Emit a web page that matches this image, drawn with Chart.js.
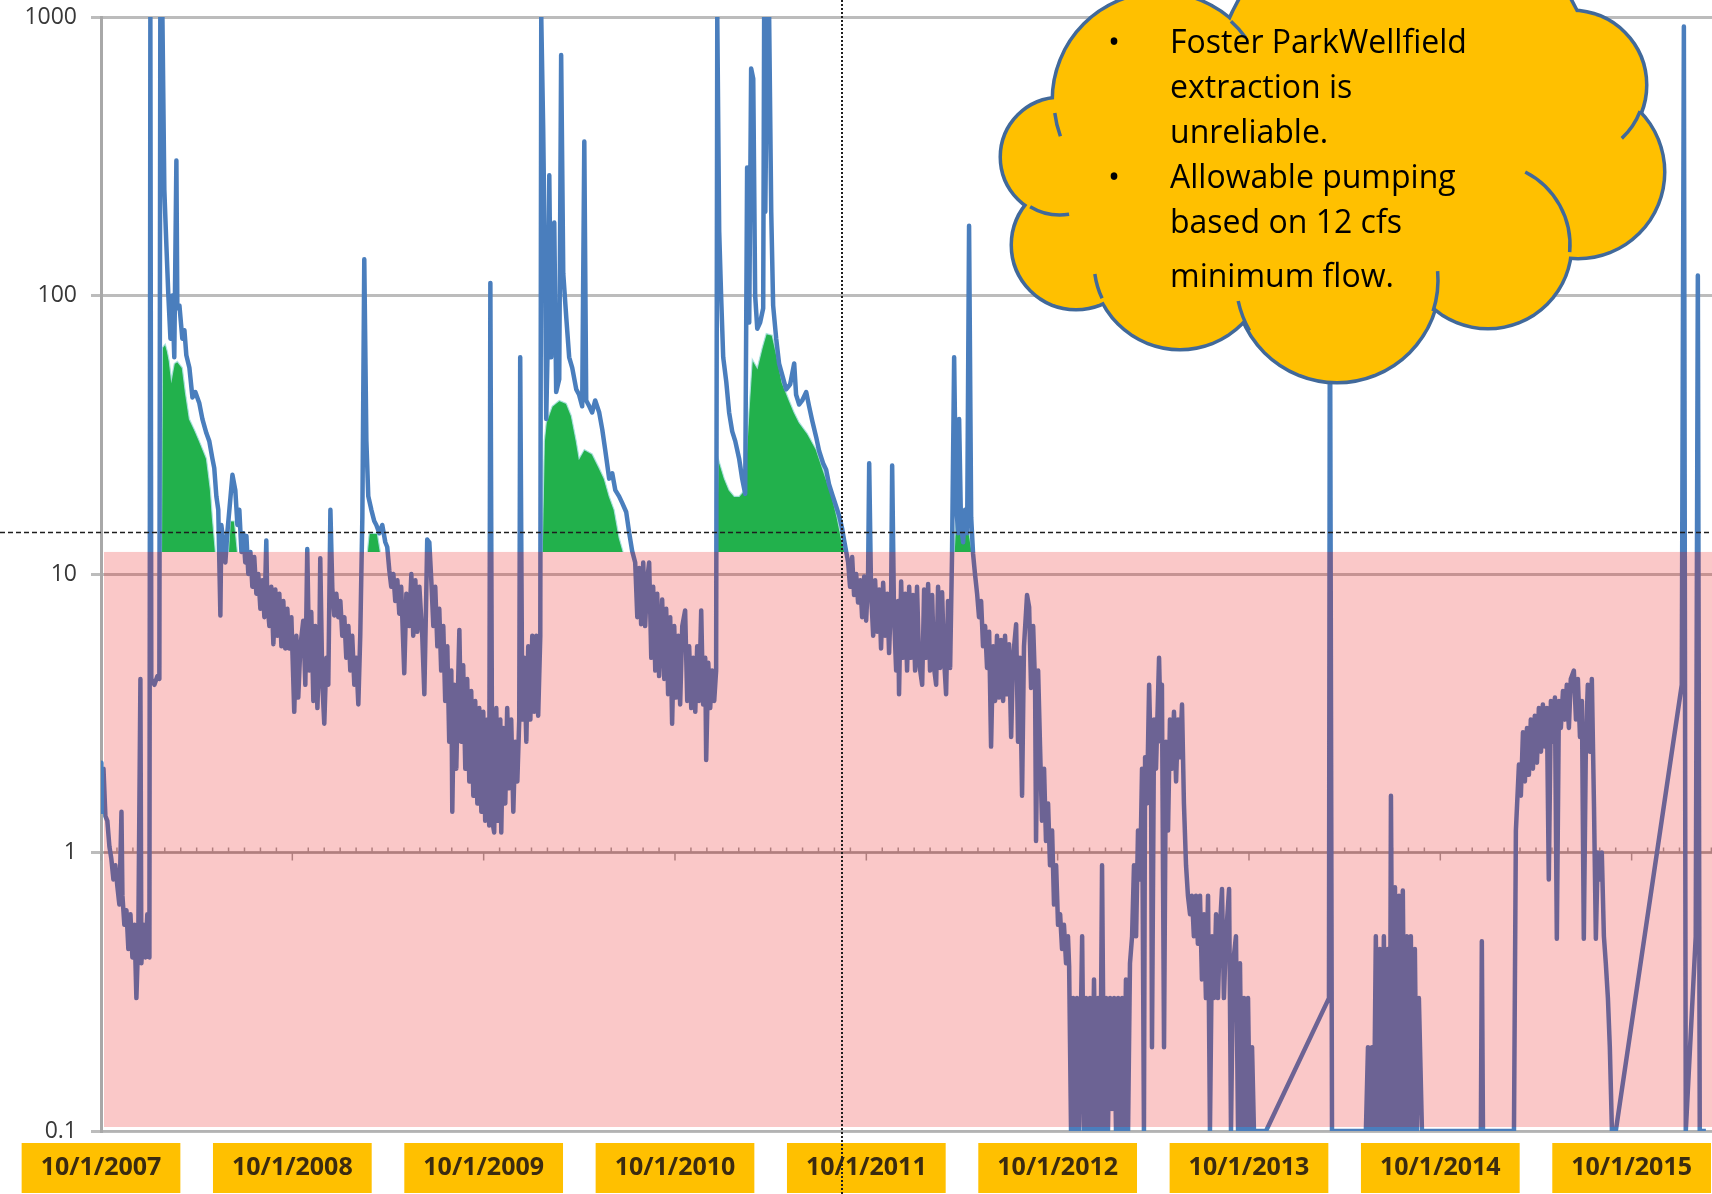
<!DOCTYPE html>
<html><head><meta charset="utf-8">
<script src="https://cdn.jsdelivr.net/npm/chart.js"></script>
<style>html,body{margin:0;padding:0;background:#fff;}canvas{display:block;}</style>
</head><body>
<canvas id="c" width="1712" height="1194"></canvas>
<script>
// ---------- data (x = years since 10/1/2007, y = flow in cfs) ----------
const dateLabels = ['10/1/2007','10/1/2008','10/1/2009','10/1/2010','10/1/2011','10/1/2012','10/1/2013','10/1/2014','10/1/2015'];
const flowTicks = [0.1, 1, 10, 100, 1000];
const minimumFlow = 12;
const dottedFlow = 14.2;
const dottedYear = 3.874;
const calloutLines = ['Foster ParkWellfield', 'extraction is', 'unreliable.', 'Allowable pumping', 'based on 12 cfs', 'minimum flow.'];
const calloutBullets = [0, 3];

const wy2008 = [[0,2.1],[0.002,1.4],[0.013,2.0],[0.023,1.35],[0.033,1.3],[0.044,1.05],[0.054,0.95],[0.065,0.8],[0.075,0.9],[0.086,0.75],[0.096,0.65],[0.107,1.4],[0.112,0.7],[0.122,0.55],[0.133,0.62],[0.143,0.45],[0.154,0.6],[0.164,0.42],[0.175,0.55],[0.185,0.3],[0.195,0.5],[0.206,4.2],[0.211,0.4],[0.222,0.55],[0.232,0.42],[0.242,0.6],[0.253,0.42],[0.258,1000],[0.263,4.2],[0.279,4.0],[0.295,4.3],[0.305,4.2],[0.310,1000],[0.321,1000],[0.331,240],[0.342,150],[0.352,100],[0.363,70],[0.373,100],[0.383,60],[0.394,305],[0.399,90],[0.410,92],[0.425,70],[0.436,75],[0.446,61],[0.462,55],[0.478,43],[0.493,45],[0.514,41],[0.530,36],[0.551,32],[0.566,30],[0.582,26],[0.592,24],[0.603,19],[0.613,17],[0.624,7.1],[0.629,15],[0.640,13],[0.650,11],[0.660,14],[0.671,17],[0.687,22.7],[0.702,20],[0.713,15],[0.723,17],[0.734,12],[0.744,14],[0.754,11],[0.760,13.7],[0.770,10],[0.781,12],[0.791,9],[0.801,11.5],[0.812,8.5],[0.822,10],[0.833,7.5],[0.843,9.5],[0.854,7],[0.864,13.2],[0.869,8],[0.880,6.5],[0.890,9],[0.901,5.6],[0.911,8.8],[0.922,6],[0.932,8.5],[0.943,5.5],[0.953,8],[0.963,5.4],[0.974,7.5],[0.984,5.4],[0.995,7]];
const wy2009 = [[1.010,3.2],[1.021,6],[1.031,3.6],[1.042,5.5],[1.057,6.8],[1.068,4],[1.078,12.3],[1.089,4.5],[1.099,7.3],[1.110,3.5],[1.120,6.5],[1.131,3.3],[1.141,5.5],[1.146,11.4],[1.157,4],[1.167,2.9],[1.178,5],[1.188,4],[1.199,17],[1.209,8.9],[1.219,7.1],[1.230,8.5],[1.240,7],[1.251,8],[1.261,6],[1.272,7],[1.282,5],[1.293,6.5],[1.303,4.5],[1.313,6],[1.324,4],[1.334,5],[1.345,3.4],[1.355,6],[1.366,16],[1.376,135],[1.387,30],[1.397,19],[1.413,17],[1.428,15.5],[1.439,15],[1.455,14],[1.470,15],[1.486,13],[1.496,12.5],[1.507,10.3],[1.517,9],[1.528,10],[1.538,8],[1.549,9.5],[1.559,7.2],[1.569,9],[1.585,4.4],[1.596,8.5],[1.611,6.5],[1.622,10],[1.632,6],[1.643,9.5],[1.653,6.2],[1.664,9],[1.679,6],[1.690,3.7],[1.700,8.5],[1.705,13.3],[1.716,13],[1.726,9.6],[1.737,6.5],[1.747,9],[1.758,5.5],[1.768,7.5],[1.778,4.5],[1.789,6.5],[1.799,3.5],[1.810,5.5],[1.820,2.5],[1.831,4.5],[1.836,1.4],[1.846,4],[1.857,2],[1.867,4.2],[1.873,6.3],[1.883,2.5],[1.893,4.7],[1.904,2],[1.914,4.2],[1.925,1.8],[1.935,3.8],[1.946,1.6],[1.956,3.5],[1.967,1.5],[1.977,3.3],[1.988,1.4],[1.998,3.2]];
const wy2010 = [[2.008,1.3],[2.019,3],[2.029,1.25],[2.035,111],[2.045,1.3],[2.055,1.18],[2.066,3.3],[2.076,1.3],[2.087,3],[2.092,1.18],[2.102,2.8],[2.113,1.5],[2.123,3.3],[2.134,1.7],[2.144,3],[2.155,1.4],[2.165,2.5],[2.176,1.8],[2.186,3],[2.191,60],[2.202,3],[2.212,5],[2.223,2.5],[2.233,5.5],[2.244,3],[2.254,6],[2.264,3.2],[2.275,6],[2.285,3.1],[2.296,6],[2.301,1000],[2.311,400],[2.322,100],[2.327,36],[2.337,80],[2.343,270],[2.353,60],[2.369,183],[2.379,45],[2.395,50],[2.405,731],[2.416,120],[2.432,83],[2.447,60],[2.463,55],[2.484,46],[2.499,44],[2.515,40],[2.526,357],[2.536,42],[2.552,40],[2.567,38],[2.583,42],[2.604,38],[2.620,33],[2.635,28],[2.656,22],[2.672,23],[2.688,20],[2.708,19],[2.724,18],[2.745,16.7],[2.761,14],[2.776,12.1],[2.792,11],[2.803,7],[2.813,10.5],[2.823,6.6],[2.834,11],[2.844,6.5],[2.855,9.6],[2.865,11],[2.876,5],[2.886,9],[2.897,4.5],[2.907,8.5],[2.917,4.3],[2.933,8.1],[2.944,4.2],[2.954,7.5],[2.964,3.7],[2.975,7],[2.985,2.9],[2.996,6.5]];
const wy2011 = [[3.006,3.6],[3.017,6],[3.027,3.4],[3.038,6.5],[3.053,7.4],[3.064,3.5],[3.074,5.5],[3.085,3.3],[3.095,5],[3.106,3.2],[3.116,5.5],[3.126,3.5],[3.137,7.4],[3.147,3.4],[3.158,5],[3.163,2.15],[3.174,4.8],[3.184,3.3],[3.194,4.5],[3.205,3.5],[3.215,4.5],[3.221,1000],[3.231,170],[3.241,100],[3.252,60],[3.268,49],[3.283,38],[3.299,32.5],[3.315,30],[3.335,26],[3.351,22],[3.367,19.4],[3.377,288],[3.388,80],[3.398,653],[3.409,600],[3.419,100],[3.430,76],[3.445,80],[3.461,90],[3.466,1000],[3.472,200],[3.482,1000],[3.492,1000],[3.503,200],[3.513,92],[3.529,70],[3.544,57],[3.560,52],[3.581,46],[3.602,48],[3.623,57],[3.633,44],[3.649,40.6],[3.665,42],[3.686,45],[3.701,40],[3.717,35.6],[3.738,31],[3.753,27.7],[3.774,25],[3.790,23.7],[3.805,21],[3.821,19.4],[3.842,17.5],[3.858,16.2],[3.874,14.5],[3.884,13.2],[3.895,12],[3.905,11],[3.915,9],[3.926,11.5],[3.936,8.4],[3.947,10],[3.957,7.9],[3.968,9.5],[3.978,7],[3.989,9.8]];
const wy2012 = [[3.999,6.8],[4.009,9.5],[4.015,25],[4.025,8.5],[4.036,6],[4.046,9.5],[4.057,6.2],[4.067,8.8],[4.077,5.4],[4.088,9.3],[4.098,6],[4.109,8.5],[4.119,5.2],[4.130,8.8],[4.135,24.5],[4.145,7],[4.156,4.5],[4.166,8],[4.171,3.7],[4.182,9.4],[4.192,5],[4.203,8.5],[4.213,4.5],[4.224,9],[4.234,5],[4.244,8.4],[4.255,4.5],[4.265,9],[4.276,4.8],[4.292,4.0],[4.302,8.8],[4.313,5],[4.323,9.2],[4.333,4.5],[4.344,8.4],[4.354,4.6],[4.365,4.0],[4.375,9],[4.386,4.6],[4.396,8.6],[4.406,5],[4.417,3.7],[4.427,8],[4.438,4.6],[4.448,11.8],[4.459,60],[4.469,18],[4.480,14],[4.485,36],[4.495,15],[4.506,13],[4.516,17],[4.527,14],[4.537,178],[4.548,16],[4.558,11.8],[4.568,10],[4.579,8.5],[4.589,7],[4.600,8],[4.610,5.5],[4.621,6.5],[4.631,4.6],[4.642,6.2],[4.652,2.4],[4.663,5.5],[4.673,3.5],[4.683,6],[4.694,3.6],[4.704,5.8],[4.715,3.5],[4.725,6],[4.736,3.7],[4.746,5.6],[4.757,2.6],[4.767,5],[4.783,6.6],[4.793,2.5],[4.803,5],[4.814,1.6],[4.824,5.5],[4.840,8.4],[4.851,7.6],[4.861,3.9],[4.872,6.5],[4.882,4],[4.887,1.1],[4.898,4.5],[4.908,2.4],[4.918,1.3],[4.929,2],[4.939,1.1],[4.950,1.5],[4.960,0.9],[4.971,1.2],[4.981,0.65],[4.992,0.9]];
const wy2013 = [[5.002,0.55],[5.013,0.6],[5.023,0.45],[5.033,0.55],[5.044,0.4],[5.054,0.5],[5.060,0.39],[5.070,0.1],[5.081,0.3],[5.091,0.1],[5.101,0.3],[5.112,0.1],[5.128,0.5],[5.138,0.1],[5.148,0.3],[5.159,0.1],[5.169,0.3],[5.180,0.1],[5.190,0.35],[5.201,0.1],[5.211,0.3],[5.222,0.1],[5.232,0.9],[5.243,0.1],[5.253,0.3],[5.263,0.1],[5.274,0.3],[5.284,0.12],[5.295,0.3],[5.305,0.1],[5.316,0.3],[5.326,0.1],[5.337,0.3],[5.347,0.1],[5.357,0.35],[5.368,0.1],[5.378,0.4],[5.389,0.5],[5.399,0.9],[5.410,0.5],[5.420,1.2],[5.431,0.8],[5.441,2.0],[5.451,0.1],[5.457,2.2],[5.467,1.5],[5.478,4.0],[5.488,2.0],[5.493,0.2],[5.504,3],[5.514,2],[5.530,5.0],[5.540,2.5],[5.545,4],[5.556,0.2],[5.566,2.5],[5.577,1.2],[5.587,3.0],[5.598,2.0],[5.608,3.2],[5.619,1.8],[5.629,3.0],[5.639,2.2],[5.650,3.4],[5.660,1.5],[5.671,0.9],[5.681,0.7],[5.692,0.6],[5.702,0.7],[5.712,0.5],[5.723,0.7],[5.733,0.47],[5.744,0.7],[5.754,0.35],[5.765,0.6],[5.775,0.3],[5.786,0.7],[5.796,0.1],[5.807,0.5],[5.817,0.3],[5.828,0.6],[5.838,0.3],[5.849,0.55],[5.859,0.74],[5.869,0.3],[5.880,0.5],[5.896,0.74],[5.906,0.1],[5.917,0.4],[5.932,0.5],[5.943,0.1],[5.953,0.4],[5.963,0.1],[5.974,0.3],[5.984,0.1],[5.995,0.3]];
const wy2014 = [[6.005,0.1],[6.016,0.2],[6.026,0.1],[6.089,0.1],[6.418,0.3],[6.423,150],[6.434,0.1],[6.611,0.1],[6.622,0.2],[6.632,0.1],[6.643,0.2],[6.653,0.1],[6.663,0.5],[6.674,0.1],[6.684,0.45],[6.695,0.1],[6.705,0.5],[6.716,0.1],[6.726,0.45],[6.736,0.1],[6.742,1.6],[6.752,0.1],[6.763,0.75],[6.773,0.1],[6.784,0.7],[6.794,0.1],[6.804,0.73],[6.815,0.1],[6.825,0.5],[6.836,0.1],[6.846,0.5],[6.857,0.1],[6.867,0.45],[6.877,0.1],[6.888,0.3],[6.904,0.1]];
const wy2015 = [[7.212,0.1],[7.217,0.48],[7.223,0.1],[7.385,0.1],[7.395,1.2],[7.411,2.07],[7.421,1.6],[7.432,2.7],[7.442,1.8],[7.453,2.8],[7.463,1.9],[7.473,3.0],[7.484,2.0],[7.494,3.1],[7.505,2.1],[7.515,3.3],[7.526,2.3],[7.536,3.4],[7.547,2.4],[7.557,3.3],[7.567,0.8],[7.578,3.5],[7.588,2.5],[7.599,3.6],[7.609,0.49],[7.620,3.5],[7.630,2.8],[7.641,3.8],[7.651,3.0],[7.661,4.0],[7.672,2.8],[7.682,4.2],[7.698,4.5],[7.709,3.0],[7.719,4.2],[7.730,2.6],[7.740,3.5],[7.750,0.49],[7.761,2.5],[7.771,4.0],[7.782,2.3],[7.792,4.2],[7.803,1.5],[7.813,0.49],[7.823,1.0],[7.834,0.8],[7.844,1.0],[7.855,0.5],[7.865,0.4],[7.876,0.3],[7.886,0.2],[7.897,0.1],[7.917,0.1]];
const wy2016 = [[8.262,4.0],[8.273,925],[8.283,0.1],[8.335,0.5],[8.346,118],[8.356,0.1],[8.388,0.1]];

const pump2008 = [[0,12],[0.316,12],[0.321,65],[0.336,67],[0.347,63],[0.357,58],[0.368,50],[0.383,57],[0.399,58],[0.425,55],[0.441,45],[0.462,36],[0.488,33],[0.514,30],[0.551,26],[0.572,20],[0.582,16],[0.598,12],[0.666,12],[0.676,15.5],[0.697,15.5],[0.713,12]];
const pump2009 = [[1.392,12],[1.402,14],[1.444,14],[1.460,12]];
const pump2010 = [[2.306,12],[2.317,30],[2.327,35],[2.358,40],[2.395,42],[2.432,41],[2.458,37],[2.484,30],[2.499,26],[2.526,28],[2.567,27],[2.604,24],[2.630,22],[2.656,19],[2.682,17],[2.708,13.5],[2.729,12]];
const pump2011 = [[3.215,12],[3.226,26],[3.258,22],[3.283,20],[3.310,19],[3.335,19],[3.362,20],[3.388,40],[3.404,59],[3.430,55],[3.456,65],[3.477,73],[3.508,72],[3.534,60],[3.560,48.7],[3.597,42],[3.623,38],[3.649,35],[3.691,32],[3.738,28],[3.780,23],[3.821,19],[3.847,16],[3.874,13],[3.890,12]];
const pump2012 = [[4.459,12],[4.469,16],[4.495,15],[4.516,16],[4.537,14],[4.553,12],[8.42,12]];

// ---------- build ----------
const toPts = arr => arr.map(p => ({x: p[0], y: p[1]}));
const flowPoints = toPts([].concat(wy2008, wy2009, wy2010, wy2011, wy2012, wy2013, wy2014, wy2015, wy2016));
const pumpPoints = toPts([].concat(pump2008, pump2009, pump2010, pump2011, pump2012));

Chart.defaults.font.family = "'Open Sans', 'DejaVu Sans', sans-serif";

const axisAtOne = {
  id: 'axisAtOne',
  beforeDatasetsDraw(chart) {
    const {ctx, chartArea: a, scales: {x, y}} = chart;
    const py = y.getPixelForValue(1);
    ctx.save();
    ctx.strokeStyle = '#a0a0a0';
    ctx.lineWidth = 2;
    ctx.beginPath(); ctx.moveTo(a.left, py); ctx.lineTo(a.right, py); ctx.stroke();
    ctx.lineWidth = 1.5;
    for (let m = 0; m / 12 <= x.max; m++) {
      const px = x.getPixelForValue(m / 12);
      ctx.beginPath();
      if (m % 12 === 0) { ctx.moveTo(px, py); ctx.lineTo(px, py + 8); }
      else { ctx.moveTo(px, py - 5); ctx.lineTo(px, py); }
      ctx.stroke();
    }
    ctx.restore();
  }
};

const pinkBand = {
  id: 'pinkBand',
  afterDatasetsDraw(chart) {
    const {ctx, chartArea: a, scales: {y}} = chart;
    const top = y.getPixelForValue(minimumFlow);
    ctx.save();
    ctx.fillStyle = 'rgba(232,5,5,0.22)';
    ctx.fillRect(a.left + 3, top, a.right - a.left - 3, a.bottom - 4 - top);
    ctx.restore();
  }
};

function drawCloud(ctx) {
  const lobes = [
    [1160,100,106],[1060,157,58],[1076,245,63],[1180,262,86],[1337,280,101],
    [1488,245,82],[1578,172,85],[1572,85,73],[1405,95,190]
  ];
  const inner = [[0,160,173],[0,-48,-36],[1,81,121],[3,155,172],[4,150,168],[4,-5,18],[5,-63,5],[7,21,47]];
  const blue = '#41699a', yellow = '#ffc000';
  ctx.save();
  ctx.strokeStyle = blue;
  ctx.lineWidth = 7;
  lobes.forEach(([x, y, r]) => { ctx.beginPath(); ctx.arc(x, y, r, 0, Math.PI * 2); ctx.stroke(); });
  ctx.fillStyle = yellow;
  lobes.forEach(([x, y, r]) => { ctx.beginPath(); ctx.arc(x, y, r, 0, Math.PI * 2); ctx.fill(); });
  ctx.beginPath();
  lobes.forEach(([x, y], i) => i ? ctx.lineTo(x, y) : ctx.moveTo(x, y));
  ctx.closePath(); ctx.fill();
  ctx.lineWidth = 3.5;
  ctx.lineCap = 'butt';
  inner.forEach(([i, a0, a1]) => {
    const [x, y, r] = lobes[i];
    ctx.beginPath(); ctx.arc(x, y, r, a0 * Math.PI / 180, a1 * Math.PI / 180); ctx.stroke();
  });
  ctx.fillStyle = '#000';
  ctx.font = "32px 'Open Sans'";
  ctx.textBaseline = 'alphabetic';
  const baselines = [53, 98, 143, 188, 233, 287];
  calloutLines.forEach((t, i) => {
    ctx.fillText(t, 1170, baselines[i]);
    if (calloutBullets.includes(i)) ctx.fillText('\u2022', 1108, baselines[i]);
  });
  ctx.restore();
}

const overlays = {
  id: 'overlays',
  afterDraw(chart) {
    const {ctx, scales: {x, y}} = chart;
    ctx.save();
    ctx.strokeStyle = '#1e1e1e';
    ctx.lineWidth = 1.5;
    ctx.setLineDash([5, 3]);
    const hy = Math.round(y.getPixelForValue(dottedFlow)) + 0.5;
    ctx.beginPath(); ctx.moveTo(0, hy); ctx.lineTo(chart.width, hy); ctx.stroke();
    ctx.lineWidth = 2;
    ctx.setLineDash([2, 2]);
    const vx = Math.round(x.getPixelForValue(dottedYear));
    ctx.beginPath(); ctx.moveTo(vx, 0); ctx.lineTo(vx, chart.height); ctx.stroke();
    ctx.restore();
    drawCloud(ctx);
  }
};

new Chart(document.getElementById('c'), {
  type: 'line',
  data: {
    datasets: [
      { label: 'Flow (cfs)', data: flowPoints, borderColor: '#4a7ebd', borderWidth: 4.5, pointRadius: 0,
        fill: false, tension: 0, order: 0, borderJoinStyle: 'round' },
      { label: 'Allowable pumping', data: pumpPoints, borderColor: 'rgba(170,225,225,0.9)', borderWidth: 1.2,
        backgroundColor: '#22b14c', fill: { value: minimumFlow }, pointRadius: 0, tension: 0, order: 1,
        segment: { borderColor: c => (c.p0.parsed.y === minimumFlow && c.p1.parsed.y === minimumFlow) ? 'rgba(0,0,0,0)' : undefined } }
    ]
  },
  options: {
    responsive: false, animation: false, devicePixelRatio: 1,
    layout: { padding: { top: 17, left: 0, right: 0, bottom: 0 } },
    plugins: { legend: { display: false }, tooltip: { enabled: false } },
    scales: {
      x: {
        type: 'linear', min: 0, max: 8.42,
        grid: { display: false, drawTicks: false },
        border: { display: true, color: '#b3b3b3', width: 2 },
        afterBuildTicks: s => { s.ticks = dateLabels.map((_, i) => ({ value: i })); },
        afterFit: s => { s.height = 63; s.paddingLeft = 0; s.paddingRight = 0; },
        ticks: {
          autoSkip: false, maxRotation: 0, minRotation: 0, padding: 22, color: '#3b2b10',
          font: { size: 25, weight: 'bold' },
          callback: v => dateLabels[v],
          showLabelBackdrop: true, backdropColor: '#ffc000',
          backdropPadding: { top: 10, bottom: 10, left: 19, right: 19 }
        }
      },
      y: {
        type: 'logarithmic', min: 0.1, max: 1000,
        grid: { color: '#bcbcbc', lineWidth: 3, tickLength: 10 },
        border: { color: '#a8a8a8', width: 3 },
        afterBuildTicks: s => { s.ticks = flowTicks.map(v => ({ value: v })); },
        afterFit: s => { s.width = 101; s.paddingTop = 0; s.paddingBottom = 0; },
        ticks: { padding: 14, color: '#383838', font: { size: 23 }, callback: v => String(v) }
      }
    }
  },
  plugins: [axisAtOne, pinkBand, overlays]
});
</script>
</body></html>
